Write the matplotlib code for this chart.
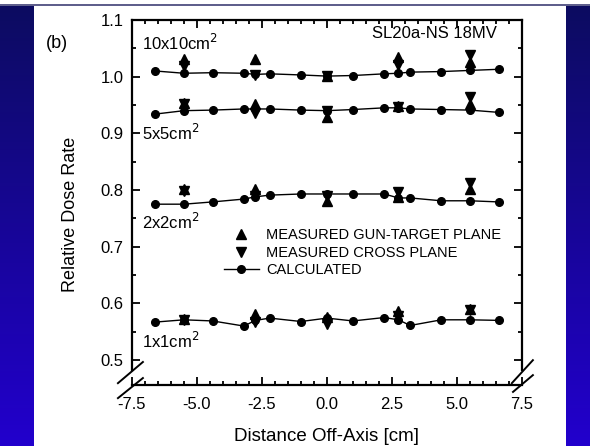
import numpy as np
import matplotlib.pyplot as plt
from matplotlib.ticker import MultipleLocator

plt.rcParams['font.family'] = ['Liberation Sans', 'DejaVu Sans']
plt.rcParams['axes.unicode_minus'] = False

# off-axis positions [cm]
calc_x = [-6.6, -5.5, -4.4, -3.2, -2.75, -2.2, -1.0, 0.0, 1.0, 2.2, 2.75, 3.2, 4.4, 5.5, 6.6]
meas_x = [-5.5, -2.75, 0.0, 2.75, 5.5]

field_labels = ['10x10cm$^2$', '5x5cm$^2$', '2x2cm$^2$', '1x1cm$^2$']
label_y = [1.059, 0.901, 0.743, 0.534]

# calculated relative dose rate
calc_10 = [1.010, 1.006, 1.007, 1.006, 1.004, 1.005, 1.003, 1.001, 1.002, 1.005, 1.006, 1.008, 1.009, 1.011, 1.013]
calc_5 = [0.934, 0.940, 0.941, 0.943, 0.943, 0.943, 0.941, 0.940, 0.942, 0.945, 0.945, 0.943, 0.942, 0.941, 0.937]
calc_2 = [0.775, 0.775, 0.779, 0.784, 0.788, 0.791, 0.793, 0.793, 0.793, 0.793, 0.786, 0.786, 0.781, 0.781, 0.779]
calc_1 = [0.567, 0.571, 0.569, 0.560, 0.570, 0.574, 0.568, 0.574, 0.569, 0.575, 0.571, 0.561, 0.571, 0.571, 0.570]

# measured, gun-target plane
gt_10 = [1.032, 1.031, 1.001, 1.035, 1.026]
gt_5 = [0.953, 0.951, 0.928, 0.948, 0.951]
gt_2 = [0.801, 0.801, 0.781, 0.788, 0.801]
gt_1 = [0.572, 0.582, 0.576, 0.586, 0.590]

# measured, cross plane
cp_10 = [1.018, 1.003, 1.001, 1.020, 1.038]
cp_5 = [0.951, 0.935, 0.940, 0.946, 0.964]
cp_2 = [0.799, 0.789, 0.789, 0.796, 0.812]
cp_1 = [0.570, 0.567, 0.564, 0.577, 0.588]

calc_all = [calc_10, calc_5, calc_2, calc_1]
gt_all = [gt_10, gt_5, gt_2, gt_1]
cp_all = [cp_10, cp_5, cp_2, cp_1]

fig = plt.figure(figsize=(5.9, 4.46), dpi=100)

# slide background: white panel with blue side bands
bg = fig.add_axes([0, 0, 1, 1], zorder=-10)
h, w = 446, 590
img = np.ones((h, w, 3))
t = np.linspace(0, 1, h)[:, None]
c_top = np.array([12, 12, 95]) / 255
c_bot = np.array([34, 0, 205]) / 255
band = c_top + (c_bot - c_top) * t
img[:, :34] = band[:, None, :]
img[:, 566:] = band[:, None, :]
img[:4] = 1.0
img[4:6] = np.array([95, 95, 140]) / 255
bg.imshow(img, aspect='auto', interpolation='nearest')
bg.axis('off')

ax = fig.add_axes([0.2237, 0.1368, 0.6610, 0.8184])
ax.set_xlim(-7.5, 7.5)
ax.set_ylim(0.456, 1.1)

for i in range(4):
    ax.plot(calc_x, calc_all[i], '-o', color='k', lw=1, ms=5.5)
    ax.plot(meas_x, gt_all[i], '^', color='k', ms=7, ls='none')
    ax.plot(meas_x, cp_all[i], 'v', color='k', ms=7, ls='none')
    ax.text(-7.12, label_y[i], field_labels[i], fontsize=12, va='center', ha='left')

ax.set_xticks(np.arange(-7.5, 7.6, 2.5))
ax.set_xticklabels(['%.1f' % v for v in np.arange(-7.5, 7.6, 2.5)])
ax.xaxis.set_minor_locator(MultipleLocator(0.5))
ax.set_yticks(np.arange(0.5, 1.11, 0.1))
ax.set_yticklabels(['%.1f' % v for v in np.arange(0.5, 1.11, 0.1)])
ax.yaxis.set_minor_locator(MultipleLocator(0.05))
ax.tick_params(which='both', direction='in', top=True, right=True, width=1.3, labelsize=12)
ax.tick_params(which='major', length=6)
ax.tick_params(which='minor', length=3)
ax.tick_params(axis='x', pad=9)
ax.tick_params(axis='y', pad=6)

for s in ax.spines.values():
    s.set_linewidth(1.6)
ax.spines['left'].set_bounds(0.483, 1.1)
ax.spines['right'].set_bounds(0.483, 1.1)

# axis break marks
brk = dict(transform=ax.transAxes, clip_on=False, color='k', lw=1.4)
ax.plot([-0.036, 0.028], [0.005, 0.063], **brk)
ax.plot([-0.036, 0.028], [-0.036, 0.019], **brk)
ax.plot([0.974, 1.028], [0.005, 0.068], **brk)
ax.plot([0.977, 1.028], [-0.019, 0.027], **brk)

ax.set_ylabel('Relative Dose Rate', fontsize=13)
ax.yaxis.set_label_coords(-0.136, 0.468)
ax.set_xlabel('Distance Off-Axis [cm]', fontsize=13.5)
ax.xaxis.set_label_coords(0.5, -0.118)

ax.text(6.55, 1.077, 'SL20a-NS 18MV', fontsize=12, ha='right', va='center')
fig.text(57 / 590, 1 - 43 / 446, '(b)', fontsize=13, ha='center', va='center')

ax.plot([], [], '^', color='k', ms=7, ls='none', label='MEASURED GUN-TARGET PLANE')
ax.plot([], [], 'v', color='k', ms=7, ls='none', label='MEASURED CROSS PLANE')
ax.plot([], [], '-o', color='k', lw=1, ms=5.5, label='CALCULATED')
handles, labels = ax.get_legend_handles_labels()
ax.legend(handles[-3:], labels[-3:], loc='upper left', bbox_to_anchor=(0.235, 0.43),
          frameon=False, fontsize=10.5, handlelength=2.4, handletextpad=0.5,
          labelspacing=0.25, borderpad=0, borderaxespad=0)

fig.savefig('out.png', dpi=100)
